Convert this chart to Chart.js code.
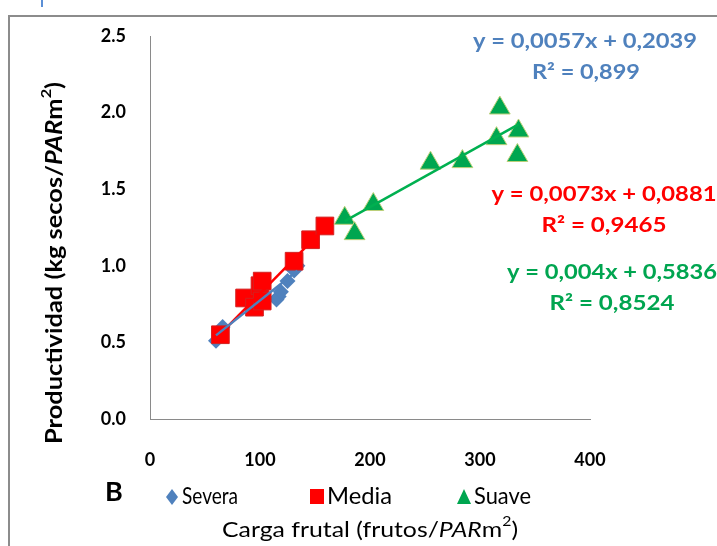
<!DOCTYPE html>
<html><head><meta charset="utf-8">
<script src="https://cdn.jsdelivr.net/npm/chart.js@4/dist/chart.umd.min.js"></script>
<style>
html,body{margin:0;padding:0;background:#fff;}
#wrap{position:relative;width:717px;height:546px;overflow:hidden;background:#fff;}
#frame{position:absolute;left:8px;top:15px;width:730px;height:560px;border-left:2px solid #8c8c8c;border-top:2px solid #8c8c8c;}
#mark{position:absolute;left:41px;top:0;width:2px;height:7px;background:#5b8fd6;}
canvas{position:absolute;left:0;top:0;}
</style></head><body>
<div id="wrap"><div id="frame"></div><div id="mark"></div><canvas id="c" width="717" height="546"></canvas></div>
<script>
// ---- data ----
const seriesNames = ["Severa", "Media", "Suave"];
const severaX = [60, 66, 115, 117, 119, 125, 131, 134];
const severaY = [0.51, 0.60, 0.78, 0.80, 0.83, 0.90, 0.97, 1.00];
const mediaX = [64, 86, 95, 100, 102, 102, 131, 146, 159];
const mediaY = [0.55, 0.79, 0.73, 0.87, 0.90, 0.77, 1.03, 1.17, 1.26];
const suaveX = [177, 186, 203, 255, 284, 315, 318, 335, 334];
const suaveY = [1.31, 1.21, 1.40, 1.67, 1.68, 1.83, 2.03, 1.88, 1.72];
const trendSlopes = [0.0057, 0.0073, 0.004];
const trendIntercepts = [0.2039, 0.0881, 0.5836];
const equationTexts = ["y = 0,0057x + 0,2039", "y = 0,0073x + 0,0881", "y = 0,004x + 0,5836"];
const r2Texts = ["R² = 0,899", "R² = 0,9465", "R² = 0,8524"];
const xTicks = [0, 100, 200, 300, 400];
const yTicks = [0, 0.5, 1.0, 1.5, 2.0, 2.5];
const panelLabel = "B";
const xTitleParts = ["Carga frutal (frutos/", "PAR", "m", "2", ")"];
const yTitleParts = ["Productividad (kg secos/", "PAR", "m", "2", ")"];

const colors = ["#4F81BD", "#FF0000", "#00A650"];
const lineColors = ["#4F81BD", "#FF0000", "#00B050"];
const textColors = ["#4F81BD", "#FF0000", "#00A550"];
const FAM = 'Lato, "Open Sans", sans-serif';

const xs = [severaX, mediaX, suaveX];
const ys = [severaY, mediaY, suaveY];
const pts = (X, Y) => X.map((v, i) => ({x: v, y: Y[i]}));
function trend(i) {
  const lo = Math.min(...xs[i]), hi = Math.max(...xs[i]);
  return [{x: lo, y: trendSlopes[i] * lo + trendIntercepts[i]}, {x: hi, y: trendSlopes[i] * hi + trendIntercepts[i]}];
}

function drawParts(ctx, parts, targetW) {
  let total = 0;
  parts.forEach(p => { ctx.font = p.font; p.w = ctx.measureText(p.t).width; total += p.w; });
  const s = targetW ? targetW / total : 1;
  ctx.scale(s, 1);
  let x = -total / 2;
  parts.forEach(p => { ctx.font = p.font; ctx.fillText(p.t, x, p.dy || 0); x += p.w; });
}
function title(parts, weight, size) {
  return [
    {t: parts[0], font: `${weight} ${size}px ${FAM}`},
    {t: parts[1], font: `italic ${weight} ${size}px ${FAM}`},
    {t: parts[2], font: `${weight} ${size}px ${FAM}`},
    {t: parts[3], font: `${weight} ${Math.round(size*0.62)}px ${FAM}`, dy: -size*0.38},
    {t: parts[4], font: `${weight} ${size}px ${FAM}`}
  ];
}

const textPlugin = {
  id: 'texts',
  afterDraw(chart) {
    const ctx = chart.ctx;
    ctx.save();
    ctx.textBaseline = 'middle';
    ctx.textAlign = 'left';
    ctx.fillStyle = '#000';
    ctx.save(); ctx.translate(55, 263); ctx.rotate(-Math.PI / 2);
    drawParts(ctx, title(yTitleParts, 'bold', 22), 362); ctx.restore();
    ctx.save(); ctx.translate(370, 530);
    drawParts(ctx, title(xTitleParts, 'normal', 22), 296); ctx.restore();
    ctx.save(); ctx.translate(114, 492);
    drawParts(ctx, [{t: panelLabel, font: `bold 27px ${FAM}`}], 0); ctx.restore();
    const eqPos = [[585, 41, 224], [604, 194, 225], [612, 272, 210]];
    const r2Pos = [[586, 72, 108], [604, 225, 125], [612, 303, 125]];
    for (let i = 0; i < 3; i++) {
      ctx.fillStyle = textColors[i];
      ctx.save(); ctx.translate(eqPos[i][0], eqPos[i][1]);
      drawParts(ctx, [{t: equationTexts[i], font: `bold 21px ${FAM}`}], eqPos[i][2]); ctx.restore();
      ctx.save(); ctx.translate(r2Pos[i][0], r2Pos[i][1]);
      drawParts(ctx, [{t: r2Texts[i], font: `bold 21px ${FAM}`}], r2Pos[i][2]); ctx.restore();
    }
    const ly = 497;
    const lx = [172, 317, 464];
    ctx.fillStyle = colors[0];
    ctx.beginPath(); ctx.moveTo(lx[0], ly - 8); ctx.lineTo(lx[0] + 6, ly); ctx.lineTo(lx[0], ly + 8); ctx.lineTo(lx[0] - 6, ly); ctx.closePath(); ctx.fill();
    ctx.fillStyle = colors[1];
    ctx.fillRect(lx[1] - 7, ly - 8, 14, 15);
    ctx.fillStyle = colors[2];
    ctx.beginPath(); ctx.moveTo(lx[2], ly - 8); ctx.lineTo(lx[2] + 7, ly + 7); ctx.lineTo(lx[2] - 7, ly + 7); ctx.closePath(); ctx.fill();
    ctx.fillStyle = '#000';
    const tw = [56, 65, 57];
    for (let i = 0; i < 3; i++) {
      ctx.save(); ctx.translate(lx[i] + 10 + tw[i] / 2, ly);
      drawParts(ctx, [{t: seriesNames[i], font: `normal 23px ${FAM}`}], tw[i]); ctx.restore();
    }
    ctx.restore();
  }
};

const datasets = [
  {label: seriesNames[0], data: pts(severaX, severaY), pointStyle: 'rectRot', pointRadius: 8, backgroundColor: colors[0], borderColor: colors[0], borderWidth: 0, order: 3},
  {label: seriesNames[1], data: pts(mediaX, mediaY), pointStyle: 'rect', pointRadius: 12.5, backgroundColor: colors[1], borderColor: '#D42020', borderWidth: 1, order: 2},
  {label: seriesNames[2], data: pts(suaveX, suaveY), pointStyle: 'triangle', pointRadius: 12, backgroundColor: colors[2], borderColor: '#BCD07A', borderWidth: 1, order: 1},
];
for (let i = 0; i < 3; i++) {
  datasets.push({label: 'trend ' + seriesNames[i], data: trend(i), showLine: true, pointRadius: 0, borderColor: lineColors[i], borderWidth: 2.5, fill: false, order: 0});
}

new Chart(document.getElementById('c'), {
  type: 'scatter',
  data: {datasets},
  options: {
    responsive: false, animation: false, devicePixelRatio: 1,
    layout: {padding: {left: 0, top: 36, right: 127, bottom: 0}},
    plugins: {legend: {display: false}, tooltip: {enabled: false}},
    scales: {
      x: {
        type: 'linear', min: xTicks[0], max: xTicks[xTicks.length - 1],
        afterBuildTicks: s => { s.ticks = xTicks.map(v => ({value: v})); },
        grid: {display: false, drawTicks: false},
        border: {display: true, color: '#8a8a8a', width: 1},
        ticks: {padding: 30, color: '#000', maxRotation: 0, font: {family: FAM, size: 18, weight: 'bold'}, callback: v => String(v)},
        afterFit: s => { s.height = 127; }
      },
      y: {
        type: 'linear', min: yTicks[0], max: yTicks[yTicks.length - 1],
        afterBuildTicks: s => { s.ticks = yTicks.map(v => ({value: v})); },
        grid: {display: false, drawTicks: false},
        border: {display: true, color: '#8a8a8a', width: 1},
        ticks: {padding: 24, color: '#000', font: {family: FAM, size: 18, weight: 'bold'}, callback: v => Number(v).toFixed(1)},
        afterFit: s => { s.width = 150; }
      }
    }
  },
  plugins: [textPlugin]
});
</script>
</body></html>
